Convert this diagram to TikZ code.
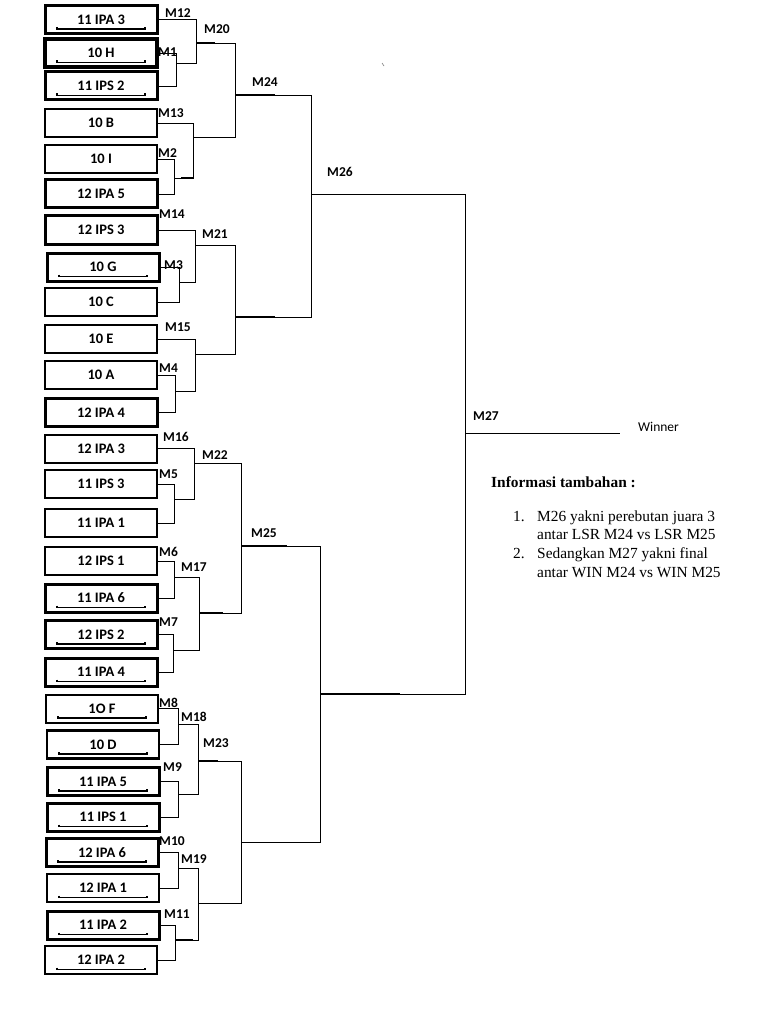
\documentclass[tikz,border=0pt]{standalone}
\usepackage{fontspec}
\newfontfamily\calfont{Carlito}
\newfontfamily\tmsfont{Liberation Serif}
\usetikzlibrary{calc}
\begin{document}
\begin{tikzpicture}[x=1pt,y=-1pt,
  team/.style={draw, rectangle, minimum width=112pt, minimum height=28pt, inner sep=0pt, outer sep=0pt,
    font=\calfont\bfseries\fontsize{14.5}{14.5}\selectfont},
  wire/.style={line width=0.9pt},
  joint/.style={line width=1.9pt},
  mlabel/.style={anchor=west, inner sep=0pt, font=\calfont\bfseries\fontsize{13.5}{13.5}\selectfont},
  ubar/.style={line width=1.3pt},
  legend/.style={anchor=base west, inner sep=0pt, font=\tmsfont\fontsize{15.4}{18}\selectfont},
]
\useasboundingbox[fill=white] (0,0) rectangle (768,1024);

% team boxes
\foreach \i/\y/\t/\w/\u/\xc in {
 1/19.5/11 IPA 3/3/1/101,
 2/53/10 H/4/1/101,
 3/86/11 IPS 2/3/1/101,
 4/123/10 B/2/0/101,
 5/159/10 I/2/0/101,
 6/194/12 IPA 5/3/0/101,
 7/230/12 IPS 3/3/0/101,
 8/267/10 G/3/1/103,
 9/302/10 C/2/0/101,
 10/339/10 E/2.5/0/101,
 11/375/10 A/2/0/101,
 12/412.5/12 IPA 4/3/0/101,
 13/448.5/12 IPA 3/2/0/101,
 14/484/11 IPS 3/2.5/0/101,
 15/523/11 IPA 1/2.5/0/101,
 16/561/12 IPS 1/2/0/101,
 17/598/11 IPA 6/3/1/101,
 18/634.5/12 IPS 2/3/1/101,
 19/672/11 IPA 4/3/1/101,
 20/708.5/1O F/2/1/102,
 21/744.5/10 D/2.5/1/103,
 22/781.5/11 IPA 5/3/1/103,
 23/817/11 IPS 1/3/1/103,
 24/852.5/12 IPA 6/3/1/102,
 25/888/12 IPA 1/2.5/1/103,
 26/925/11 IPA 2/3/1/103,
 27/960/12 IPA 2/2/1/101}{
  \node[team, line width=\w pt] (b\i) at (\xc,\y) {\t};
  \ifnum\u=1
    \draw[ubar] (b\i.south west) ++(12,-6.5) -- ++(0,2) -- ++(88,0) -- ++(0,-2);
  \fi
}

% upper half
\draw[wire] (b1.east) -| (196,63) -- (176,63);
\draw[wire] (b2.east) -| (176,86) -- (b3.east);
\draw[wire] (196,43) -| (235,137) -- (193,137);
\draw[wire] (b4.east) -| (193,178) -- (174,178);
\draw[wire] (b5.east) -| (174,194) -- (b6.east);
\draw[wire] (235,95) -| (311,317) -- (235,317);
\draw[wire] (b7.east) -| (195,282) -- (179,282);
\draw[wire] (b8.east) -| (179,302) -- (b9.east);
\draw[wire] (195,245) -| (235,354) -- (195,354);
\draw[wire] (b10.east) -| (195,391) -- (175,391);
\draw[wire] (b11.east) -| (175,412.5) -- (b12.east);
% finals
\draw[wire] (311,194) -| (465,694) -- (320,694);
\draw[wire] (465,433) -- (620,433);
% lower half
\draw[wire] (b13.east) -| (194,499) -- (174,499);
\draw[wire] (b14.east) -| (174,523) -- (b15.east);
\draw[wire] (194,463) -| (241,613) -- (199,613);
\draw[wire] (b16.east) -| (174,598) -- (b17.east);
\draw[wire] (174,577) -| (199,650) -- (173,650);
\draw[wire] (b18.east) -| (173,672) -- (b19.east);
\draw[wire] (241,546) -| (320,842) -- (241,842);
\draw[wire] (b20.east) -| (178,744.5) -- (b21.east);
\draw[wire] (178,724) -| (198,794) -- (178,794);
\draw[wire] (b22.east) -| (178,817) -- (b23.east);
\draw[wire] (198,761) -| (241,903) -- (198,903);
\draw[wire] (b24.east) -| (178,888) -- (b25.east);
\draw[wire] (178,868) -| (198,940) -- (175,940);
\draw[wire] (b26.east) -| (175,960) -- (b27.east);

% thicker junction stubs
\draw[joint] (196,43) -- (215,43);
\draw[joint] (235,95) -- (275,95);
\draw[joint] (235,317) -- (275,317);
\draw[joint] (181,178) -- (193,178);
\draw[joint] (241,546) -- (287,546);
\draw[joint] (199,613) -- (223,613);
\draw[joint] (198,761) -- (218,761);
\draw[joint] (320,694) -- (400,694);
\draw[joint] (176,940) -- (193,940);

% match labels
\foreach \m/\x/\y in {M12/165/13, M20/204/29, M1/158/52, M24/252/82, M13/158/113, M2/158/153,
  M14/159/214, M21/202/234, M3/164/265, M15/165/327, M4/159/368, M16/163/437, M22/202/455,
  M5/159/474, M25/251/533, M6/159/552, M17/181/567, M7/159/622, M8/159/703, M18/181/717,
  M23/203/743, M9/163/767, M10/159/841, M19/181/859, M11/164/914, M26/327/172, M27/473/416}{
  \node[mlabel] (lab\m) at (\x,\y) {\m};
}
\node[anchor=west, inner sep=0pt, font=\calfont\fontsize{13.5}{14}\selectfont] (winner) at (638,427) {Winner};

% stray mark
\draw[gray, line width=0.6pt] (382,63) -- (384,66);

% legend
\node[legend, font=\tmsfont\bfseries\fontsize{15.4}{18}\selectfont] (info) at (491,487) {Informasi tambahan :};
\node[legend] (n1) at (513,521) {1.};
\node[legend] (l1) at (537,521) {M26 yakni perebutan juara 3};
\node[legend] (l2) at (537,539) {antar LSR M24 vs LSR M25};
\node[legend] (n2) at (513,558) {2.};
\node[legend] (l3) at (537,558) {Sedangkan M27 yakni final};
\node[legend] (l4) at (537,577) {antar WIN M24 vs WIN M25};
\end{tikzpicture}
\end{document}
